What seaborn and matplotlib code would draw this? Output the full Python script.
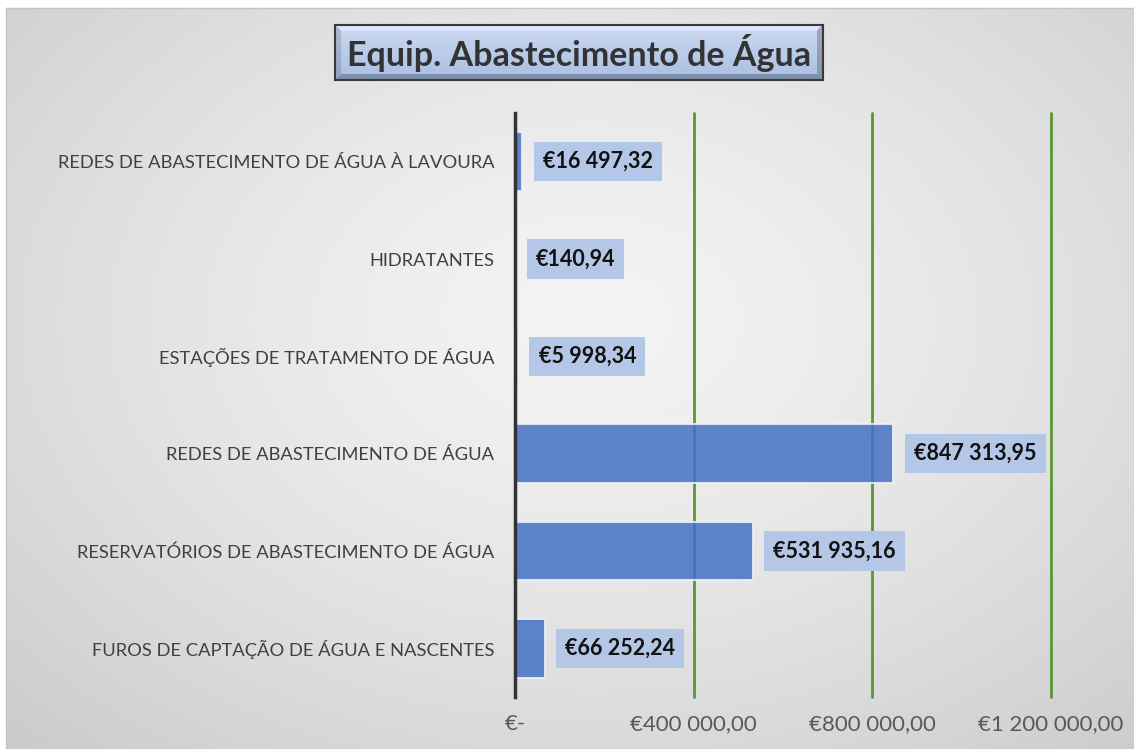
import numpy as np
import pandas as pd
import matplotlib.pyplot as plt
import seaborn as sns

# dados
categorias = ['REDES DE ABASTECIMENTO DE ÁGUA À LAVOURA', 'HIDRATANTES',
              'ESTAÇÕES DE TRATAMENTO DE ÁGUA', 'REDES DE ABASTECIMENTO DE ÁGUA',
              'RESERVATÓRIOS DE ABASTECIMENTO DE ÁGUA', 'FUROS DE CAPTAÇÃO DE ÁGUA E NASCENTES']
valores = [16497.32, 140.94, 5998.34, 847313.95, 531935.16, 66252.24]
rotulos = ['€16 497,32', '€140,94', '€5 998,34', '€847 313,95', '€531 935,16', '€66 252,24']
ticks = [0, 400000, 800000, 1200000]
tick_labels = ['€-', '€400 000,00', '€800 000,00', '€1 200 000,00']
titulo = 'Equip. Abastecimento de Água'

df = pd.DataFrame({'categoria': categorias, 'valor': valores})

sns.set_theme(style='white')
plt.rcParams['font.family'] = ['Lato', 'DejaVu Sans']

W, H = 1134, 749
fig = plt.figure(figsize=(W / 100, H / 100), dpi=100)
fig.patch.set_facecolor('white')

# fundo com gradiente radial (estilo Excel)
bg = fig.add_axes([6 / W, 0, 1 - 6 / W, 1 - 8 / H])
yy, xx = np.mgrid[0:1:300j, 0:1:450j]
r = np.sqrt(((xx - 0.52) / 0.75) ** 2 + ((yy - 0.42) / 0.8) ** 2)
shade = 0.955 - 0.16 * np.clip(r, 0, 1) ** 1.4
bg.imshow(np.dstack([shade] * 3), aspect='auto', extent=[0, 1, 0, 1])
bg.set_xticks([])
bg.set_yticks([])
for s in bg.spines.values():
    s.set_color('#c4c4c4')
    s.set_linewidth(1)

# eixo principal
ax = fig.add_axes([515 / W, 1 - 697 / H, (1051 - 515) / W, (697 - 113) / H])
ax.patch.set_alpha(0)
sns.barplot(data=df, y='categoria', x='valor', orient='h', color='#4472c4',
            alpha=0.85, saturation=1, width=0.6, edgecolor='#eef2fa',
            linewidth=1.5, ax=ax)

ax.set_xlim(0, 1200000)
ax.set_xticks(ticks)
ax.set_xticklabels(tick_labels, fontsize=16, color='#595959')
ax.tick_params(axis='x', length=0, pad=12)
ax.tick_params(axis='y', length=0, pad=15, labelsize=13.2, labelcolor='#404040')
ax.set_xlabel('')
ax.set_ylabel('')
ax.set_axisbelow(True)
ax.xaxis.grid(True, color='#5a9632', linewidth=2)
for gl in ax.get_xgridlines():
    gl.set_clip_on(False)
for lado in ['top', 'right', 'bottom']:
    ax.spines[lado].set_visible(False)
ax.spines['left'].set_color('#333333')
ax.spines['left'].set_linewidth(2.5)
ax.spines['left'].set_zorder(5)

# rótulos de valor
for i, (v, txt) in enumerate(zip(valores, rotulos)):
    ax.annotate(txt, (v, i), xytext=(15, 0), textcoords='offset points',
                ha='left', va='center', fontsize=15.5, fontweight='bold', color='#111111',
                bbox=dict(boxstyle='square,pad=0.42', facecolor='#b4c7e7', edgecolor='none'),
                annotation_clip=False)

# título com caixa em relevo
tax = fig.add_axes([335 / W, 1 - 80 / H, (823 - 335) / W, (80 - 25) / H])
h, w = 55, 488
t = np.linspace(0, 1, h)[:, None, None]
c1 = np.array([0.80, 0.85, 0.94])
c2 = np.array([0.66, 0.75, 0.89])
img = np.broadcast_to(c1 * (1 - t) + c2 * t, (h, w, 3)).copy()
py, px = np.mgrid[0:h, 0:w]
d = np.stack([px, w - 1 - px, py, h - 1 - py])
near = d.argmin(0)
edge = d.min(0) < 6
factor = np.array([0.86, 0.78, 1.08, 0.74])[near]
img = np.where(edge[..., None], np.clip(img * factor[..., None], 0, 1), img)
tax.imshow(img, aspect='auto')
tax.set_xticks([])
tax.set_yticks([])
for s in tax.spines.values():
    s.set_color('#3a3a3a')
    s.set_linewidth(1.5)
tax.text(0.5, 0.5, titulo, transform=tax.transAxes, ha='center', va='center',
         fontsize=24.5, fontweight='bold', color='#333333')

fig.savefig('out.png', dpi=100)
